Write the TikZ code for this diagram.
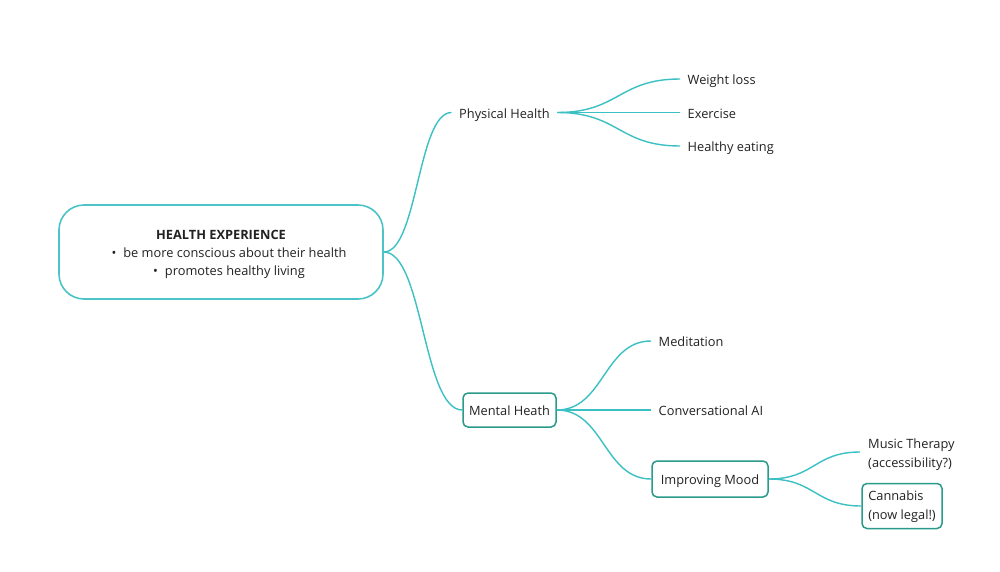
\documentclass[tikz,border=0pt]{standalone}
\usepackage{fontspec}
\setmainfont{Open Sans}
\usetikzlibrary{calc}
\definecolor{lineteal}{HTML}{3BC0C4}
\definecolor{rootteal}{HTML}{4CC3C7}
\definecolor{boxteal}{HTML}{2A9A8A}
\definecolor{txt}{HTML}{222222}
\newcommand{\lowerby}[2]{\raisebox{-#1}[\height][\depth]{#2}}
\begin{document}
\begin{tikzpicture}[x=1pt,y=-1pt,
  every node/.style={font=\fontsize{12.8}{19}\selectfont, text=txt},
  lbl/.style={inner xsep=7.5pt, inner ysep=0pt, anchor=west, text height=11.2pt, text depth=0pt},
  boxnode/.style={draw=boxteal, line width=1.5pt, rounded corners=5pt, inner sep=0pt},
  conn/.style={draw=lineteal, line width=1.4pt}
]
\useasboundingbox (0,0) rectangle (1000,571);
\fill[white] (0,0) rectangle (1000,571);

% root
\node[draw=rootteal, line width=1.6pt, rounded corners=25pt, minimum width=324pt, minimum height=94pt,
  font=\fontsize{12.8}{18}\selectfont] (root) at (221,252)
  {\lowerby{2pt}{\begin{tabular}{@{}c@{}}\textbf{HEALTH EXPERIENCE}\\ \hspace*{16pt}\textbullet\hspace{7pt}be more conscious about their health\\ \hspace*{16pt}\textbullet\hspace{7pt}promotes healthy living\end{tabular}}};

% physical
\node[lbl] (ph) at (451.5,112.5) {Physical Health};
\node[lbl] (wl) at (680,79) {Weight loss};
\node[lbl] (ex) at (680,112.5) {Exercise};
\node[lbl] (he) at (680,146) {Healthy eating};

% mental
\node[boxnode, minimum width=93pt, minimum height=34pt] (mh) at (509.5,410) {\lowerby{1pt}{Mental Heath}};
\node[lbl] (med) at (651,341) {Meditation};
\node[lbl] (cai) at (651,410) {Conversational AI};
\node[boxnode, minimum width=116pt, minimum height=36pt] (im) at (710,479) {\lowerby{2pt}{Improving Mood}};
\node[inner xsep=8pt, inner ysep=0pt, anchor=west] (mt) at (860,452) {\lowerby{2pt}{\begin{tabular}{@{}l@{}}Music Therapy\\(accessibility?)\end{tabular}}};
\node[boxnode, minimum width=80pt, minimum height=45pt] (ca) at (902,506) {\begin{tabular}{@{}l@{}}Cannabis\\(now legal!)\end{tabular}};

% connectors
\foreach \a/\b in {root.east/ph.west, root.east/mh.west,
                   ph.east/wl.west, ph.east/ex.west, ph.east/he.west,
                   mh.east/med.west, mh.east/cai.west, mh.east/im.west,
                   im.east/mt.west, im.east/ca.west} {
  \coordinate (p0) at (\a);
  \coordinate (p1) at (\b);
  \coordinate (pm) at ($(p0)!0.5!(p1)$);
  \draw[conn] (p0) .. controls (pm |- p0) and (pm |- p1) .. (p1);
}
\end{tikzpicture}
\end{document}
